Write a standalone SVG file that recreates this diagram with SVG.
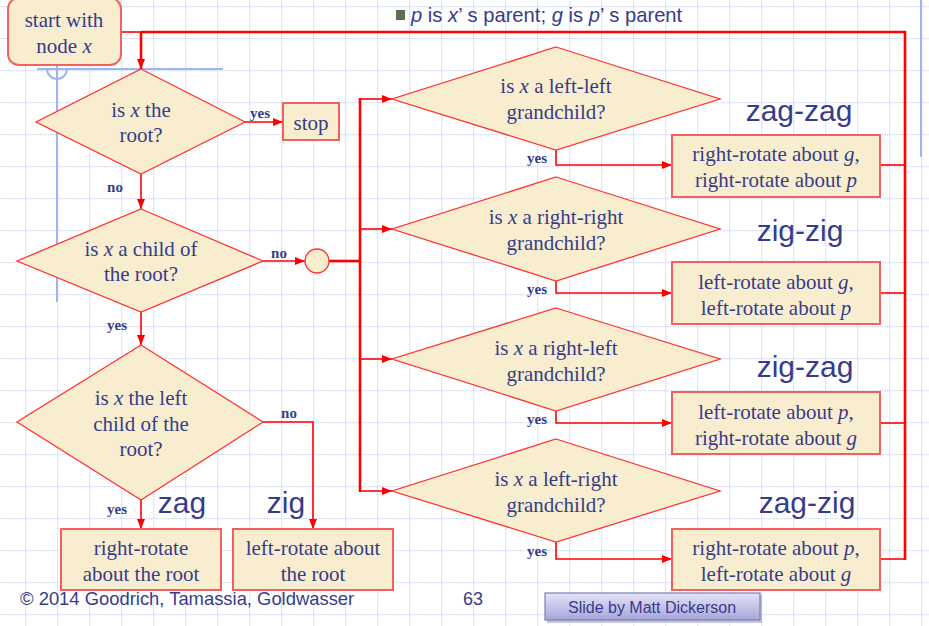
<svg xmlns="http://www.w3.org/2000/svg" width="929" height="626" viewBox="0 0 929 626">
<defs>
  <pattern id="grid" patternUnits="userSpaceOnUse" x="25" y="6" width="32" height="32">
    <line x1="0.5" y1="0" x2="0.5" y2="32" stroke="#cdd8f4" stroke-width="1.5" stroke-dasharray="1.5 1"/>
    <line x1="0" y1="0.5" x2="32" y2="0.5" stroke="#cdd8f4" stroke-width="1.5" stroke-dasharray="1.5 1"/>
  </pattern>
  <linearGradient id="btn" x1="0" y1="0" x2="0" y2="1">
    <stop offset="0" stop-color="#e4e4f7"/>
    <stop offset="1" stop-color="#a6a6da"/>
  </linearGradient>
  <marker id="ah" viewBox="0 0 10 8" refX="10" refY="4" markerWidth="10" markerHeight="8" markerUnits="userSpaceOnUse" orient="auto">
    <path d="M0,0 L10,4 L0,8 Z" fill="#ff0000"/>
  </marker>
  <style>
    .dia { fill: #f8eecf; stroke: #ff3333; stroke-width: 1.3; }
    .box { fill: #f8eecf; stroke: #f26060; stroke-width: 2; }
    .t { font-family: "Liberation Serif", "Times New Roman", serif; font-size: 21px; fill: #373c8a; text-anchor: middle; }
    .lb { font-family: "Liberation Serif", "Times New Roman", serif; font-size: 15px; font-weight: bold; fill: #373c8a; text-anchor: middle; }
    .big { font-family: "Liberation Sans", Arial, sans-serif; font-size: 30px; fill: #373c8a; text-anchor: middle; }
    .sans { font-family: "Liberation Sans", Arial, sans-serif; fill: #373c8a; }
    .c { fill: none; stroke: #ff0000; stroke-width: 1.6; }
    .ct { fill: none; stroke: #ff0000; stroke-width: 2.6; }
    .deco { fill: none; stroke: #9fb4f0; stroke-width: 2; }
  </style>
</defs>
<rect x="0" y="0" width="929" height="626" fill="#ffffff"/>
<rect x="0" y="0" width="929" height="626" fill="url(#grid)"/>

<!-- decorative blue lines -->
<g id="decor">
  <line class="deco" x1="37" y1="69" x2="223" y2="69"/>
  <line class="deco" x1="57" y1="62" x2="57" y2="302"/>
  <path class="deco" d="M47,69 A10,10 0 0 0 67,69" stroke-width="1.5"/>
  <line class="deco" x1="921" y1="0" x2="921" y2="157" stroke-width="2.5"/>
</g>

<!-- title -->
<g id="title">
  <rect x="396" y="10" width="9" height="10" fill="#5b7052"/>
  <text class="sans" x="411" y="22" font-size="20.2"><tspan font-style="italic">p</tspan> is <tspan font-style="italic">x</tspan>’ s parent; <tspan font-style="italic">g</tspan> is <tspan font-style="italic">p</tspan>’ s parent</text>
</g>

<!-- connectors -->
<g id="connectors">
  <line class="c" x1="121" y1="32" x2="141" y2="32"/>
  <path class="ct" d="M141,32 H905 V560"/>
  <line class="ct" x1="141" y1="32" x2="141" y2="69" marker-end="url(#ah)"/>
  <line class="c" x1="245" y1="122" x2="283" y2="122" marker-end="url(#ah)"/>
  <line class="c" x1="141" y1="174" x2="141" y2="209" marker-end="url(#ah)"/>
  <line class="c" x1="263" y1="261" x2="305" y2="261" marker-end="url(#ah)"/>
  <line class="ct" x1="329" y1="261" x2="361" y2="261"/>
  <line class="ct" x1="360" y1="98" x2="360" y2="492"/>
  <line class="c" x1="360" y1="99" x2="392" y2="99" marker-end="url(#ah)"/>
  <line class="c" x1="360" y1="229" x2="392" y2="229" marker-end="url(#ah)"/>
  <line class="c" x1="360" y1="359" x2="392" y2="359" marker-end="url(#ah)"/>
  <line class="c" x1="360" y1="491" x2="392" y2="491" marker-end="url(#ah)"/>
  <line class="c" x1="141" y1="312" x2="141" y2="345" marker-end="url(#ah)"/>
  <path class="c" d="M263,422 H313 V529" marker-end="url(#ah)"/>
  <line class="c" x1="141" y1="500" x2="141" y2="529" marker-end="url(#ah)"/>
  <path class="c" d="M556,150 V165 H672" marker-end="url(#ah)"/>
  <path class="c" d="M556,281 V293 H672" marker-end="url(#ah)"/>
  <path class="c" d="M556,411 V423 H672" marker-end="url(#ah)"/>
  <path class="c" d="M556,542 V559 H672" marker-end="url(#ah)"/>
  <line class="c" x1="880" y1="165" x2="905" y2="165"/>
  <line class="c" x1="880" y1="293" x2="905" y2="293"/>
  <line class="c" x1="880" y1="423" x2="905" y2="423"/>
  <line class="c" x1="880" y1="559" x2="905" y2="559"/>
  <text class="lb" x="260" y="118">yes</text>
  <text class="lb" x="115" y="192">no</text>
  <text class="lb" x="279" y="258">no</text>
  <text class="lb" x="117" y="330">yes</text>
  <text class="lb" x="289" y="418">no</text>
  <text class="lb" x="117" y="514">yes</text>
  <text class="lb" x="537" y="163">yes</text>
  <text class="lb" x="537" y="294">yes</text>
  <text class="lb" x="537" y="424">yes</text>
  <text class="lb" x="537" y="556">yes</text>
</g>

<!-- nodes -->
<g id="start">
  <rect class="box" x="8" y="-2" width="113" height="67" rx="11" ry="11"/>
  <text class="t" x="64" y="27">start with</text>
  <text class="t" x="64" y="53">node <tspan font-style="italic">x</tspan></text>
</g>
<g id="isRoot">
  <polygon class="dia" points="141,69 245,122 141,174 36,122"/>
  <text class="t" x="141" y="117">is <tspan font-style="italic">x</tspan> the</text>
  <text class="t" x="141" y="142">root?</text>
</g>
<g id="stop">
  <rect class="box" x="283" y="103" width="56" height="37"/>
  <text class="t" x="311" y="130">stop</text>
</g>
<g id="isChild">
  <polygon class="dia" points="141,209 263,261 141,312 17,261"/>
  <text class="t" x="141" y="256">is <tspan font-style="italic">x</tspan> a child of</text>
  <text class="t" x="141" y="281">the root?</text>
</g>
<g id="junction">
  <circle class="dia" cx="317" cy="261" r="12" stroke-width="1.6"/>
</g>
<g id="isLeftChild">
  <polygon class="dia" points="141,345 263,422 141,500 17,422"/>
  <text class="t" x="141" y="405">is <tspan font-style="italic">x</tspan> the left</text>
  <text class="t" x="141" y="431">child of the</text>
  <text class="t" x="141" y="456">root?</text>
</g>
<g id="zag">
  <rect class="box" x="61" y="529" width="160" height="61"/>
  <text class="t" x="141" y="555">right-rotate</text>
  <text class="t" x="141" y="581">about the root</text>
  <text class="big" x="182" y="513">zag</text>
</g>
<g id="zig">
  <rect class="box" x="233" y="529" width="160" height="61"/>
  <text class="t" x="313" y="555">left-rotate about</text>
  <text class="t" x="313" y="581">the root</text>
  <text class="big" x="286" y="513">zig</text>
</g>
<g id="leftLeft">
  <polygon class="dia" points="556,47 720,99 556,150 392,99"/>
  <text class="t" x="556" y="93">is <tspan font-style="italic">x</tspan> a left-left</text>
  <text class="t" x="556" y="119">grandchild?</text>
</g>
<g id="zagzag">
  <rect class="box" x="672" y="135" width="208" height="62"/>
  <text class="t" x="776" y="161">right-rotate about <tspan font-style="italic">g</tspan>,</text>
  <text class="t" x="776" y="187">right-rotate about <tspan font-style="italic">p</tspan></text>
  <text class="big" x="799" y="121">zag-zag</text>
</g>
<g id="rightRight">
  <polygon class="dia" points="556,177 720,229 556,281 392,229"/>
  <text class="t" x="556" y="224">is <tspan font-style="italic">x</tspan> a right-right</text>
  <text class="t" x="556" y="250">grandchild?</text>
</g>
<g id="zigzig">
  <rect class="box" x="672" y="262" width="208" height="62"/>
  <text class="t" x="776" y="289">left-rotate about <tspan font-style="italic">g</tspan>,</text>
  <text class="t" x="776" y="315">left-rotate about <tspan font-style="italic">p</tspan></text>
  <text class="big" x="800" y="241">zig-zig</text>
</g>
<g id="rightLeft">
  <polygon class="dia" points="556,308 720,359 556,411 392,359"/>
  <text class="t" x="556" y="355">is <tspan font-style="italic">x</tspan> a right-left</text>
  <text class="t" x="556" y="381">grandchild?</text>
</g>
<g id="zigzag">
  <rect class="box" x="672" y="392" width="208" height="62"/>
  <text class="t" x="776" y="419">left-rotate about <tspan font-style="italic">p</tspan>,</text>
  <text class="t" x="776" y="445">right-rotate about <tspan font-style="italic">g</tspan></text>
  <text class="big" x="805" y="377">zig-zag</text>
</g>
<g id="leftRight">
  <polygon class="dia" points="556,439 720,491 556,542 392,491"/>
  <text class="t" x="556" y="486">is <tspan font-style="italic">x</tspan> a left-right</text>
  <text class="t" x="556" y="512">grandchild?</text>
</g>
<g id="zagzig">
  <rect class="box" x="672" y="529" width="208" height="61"/>
  <text class="t" x="776" y="555">right-rotate about <tspan font-style="italic">p</tspan>,</text>
  <text class="t" x="776" y="581">left-rotate about <tspan font-style="italic">g</tspan></text>
  <text class="big" x="807" y="513">zag-zig</text>
</g>

<!-- footer -->
<g id="footer">
  <text class="sans" x="20" y="605" font-size="18.4">© 2014 Goodrich, Tamassia, Goldwasser</text>
  <text class="sans" x="473" y="605" font-size="18" text-anchor="middle">63</text>
  <rect x="547" y="595" width="215" height="28" fill="#9090b8" opacity="0.5"/>
  <rect x="545" y="593" width="215" height="27" fill="url(#btn)" stroke="#7c7cb8" stroke-width="1.2"/>
  <text class="sans" x="652" y="613" font-size="16" text-anchor="middle">Slide by Matt Dickerson</text>
</g>
</svg>
